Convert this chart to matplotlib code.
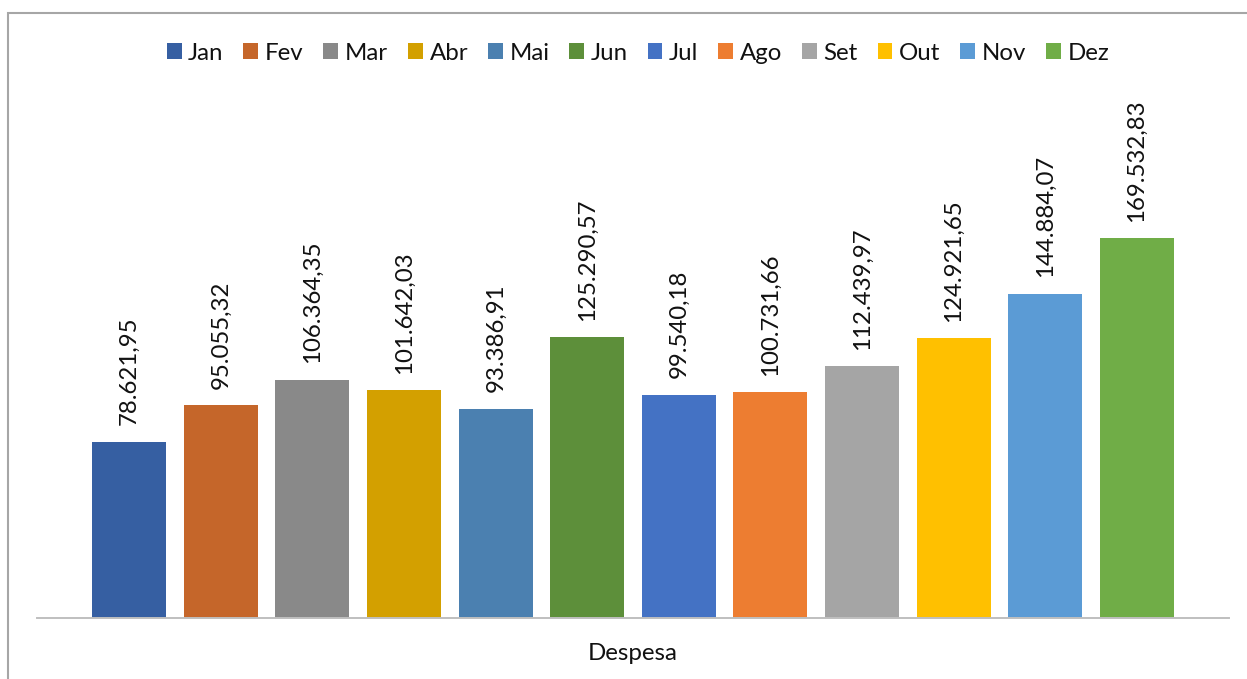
import matplotlib
matplotlib.use("Agg")
import matplotlib.pyplot as plt
from matplotlib.patches import Rectangle, Patch

months = ["Jan", "Fev", "Mar", "Abr", "Mai", "Jun", "Jul", "Ago", "Set", "Out", "Nov", "Dez"]
values = [78621.95, 95055.32, 106364.35, 101642.03, 93386.91, 125290.57,
          99540.18, 100731.66, 112439.97, 124921.65, 144884.07, 169532.83]
colors = ["#365FA2", "#C5662A", "#898989", "#D3A000", "#4B80B0", "#5D8F3A",
          "#4472C4", "#ED7D31", "#A5A5A5", "#FFC000", "#5B9BD5", "#70AD47"]
category = "Despesa"

def fmt(v):
    s = f"{v:,.2f}"
    return s.replace(",", "X").replace(".", ",").replace("X", ".")

plt.rcParams['font.family'] = ['Lato', 'DejaVu Sans']
FS = 17.3
TC = "#111111"
W, H = 1247, 679
fig = plt.figure(figsize=(W / 100, H / 100), dpi=100)
ax_left, ax_right = 37, 1229
ax_bottom, ax_top = 618, 215
ax = fig.add_axes([ax_left / W, 1 - ax_bottom / H, (ax_right - ax_left) / W, (ax_bottom - ax_top) / H])

axw = ax_right - ax_left
slot = 91.6 / axw
bw = 74 / axw
n = len(values)
for i, (m, v, c) in enumerate(zip(months, values, colors)):
    x = (i - (n - 1) / 2) * slot
    ax.bar(x, v, width=bw, color=c, label=m, zorder=2)
    ax.annotate(fmt(v), xy=(x, v), xytext=(0, 12), textcoords="offset points",
                rotation=90, ha="center", va="bottom", fontsize=FS, color=TC)

ax.set_xlim(-0.5, 0.5)
ax.set_ylim(0, 180000)
ax.set_xticks([0])
ax.set_xticklabels([category], fontsize=FS, color=TC)
ax.tick_params(axis="x", length=0, pad=18)
ax.set_yticks([])
for s in ["top", "left", "right"]:
    ax.spines[s].set_visible(False)
ax.spines["bottom"].set_color("#BFBFBF")
ax.spines["bottom"].set_linewidth(1.4)
ax.spines["bottom"].set_zorder(3)
ax.patch.set_alpha(0)

handles = [Patch(facecolor=c, edgecolor="none") for c in colors]
fig.legend(handles, months, loc="center", bbox_to_anchor=(638 / W, 1 - 53 / H),
           ncol=12, frameon=False, fontsize=FS, handlelength=0.62, handleheight=0.62,
           handletextpad=0.28, columnspacing=0.82, labelcolor=TC, borderpad=0)

fig.add_artist(Rectangle((8 / W, -0.1), 1.2, (1 - 13 / H) + 0.1, transform=fig.transFigure,
                         fill=False, edgecolor="#A6A6A6", linewidth=1.5))

fig.savefig("out.png", dpi=100)
